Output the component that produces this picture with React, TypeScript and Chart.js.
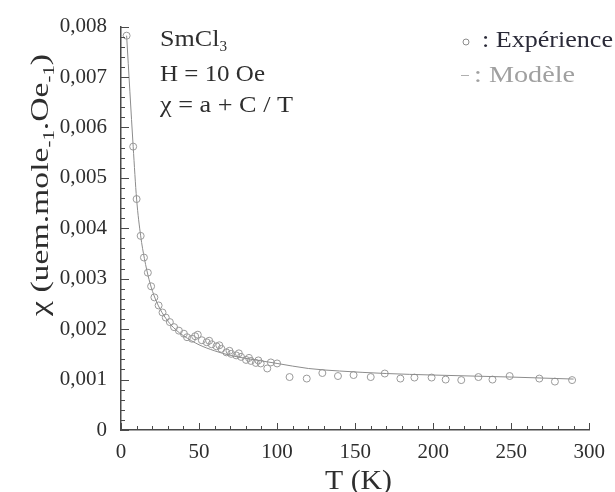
import React, { useEffect, useRef } from "react";
import { Chart, registerables } from "chart.js";

Chart.register(...registerables);

// ---------- data ----------
const expT = [
  3.6, 7.8, 10.0, 12.6, 14.7, 17.2, 19.3, 21.4, 24.1, 26.6, 28.7, 31.3, 34.0, 37.1,
  40.3, 42.3, 45.5, 47.5, 49.2, 51.8, 54.9, 56.5, 58.1, 61.2, 63.0, 64.3, 67.5, 69.5,
  70.6, 73.8, 75.5, 76.9, 80.1, 82.0, 83.2, 86.4, 88.0, 89.5, 93.7, 96.0, 100.0,
  108, 119, 129, 139, 149, 160, 169, 179, 188, 199, 208, 218, 229, 238, 249, 268, 278, 289,
];
const expChi = [
  0.00782, 0.00562, 0.00458, 0.00385, 0.00342, 0.00312, 0.00285, 0.00263, 0.00247, 0.00233,
  0.00223, 0.00214, 0.00204, 0.00197, 0.00191, 0.00184, 0.00181, 0.00186, 0.00189, 0.00178,
  0.00174, 0.00177, 0.0017, 0.00166, 0.00168, 0.00161, 0.00154, 0.00157, 0.00151, 0.00148,
  0.00152, 0.00145, 0.00139, 0.00143, 0.00137, 0.00133, 0.00138, 0.00132, 0.00122, 0.00134,
  0.00132, 0.00105, 0.00102, 0.00113, 0.00107, 0.00109, 0.00105, 0.00112, 0.00102, 0.00104,
  0.00104, 0.001, 0.00099, 0.00105, 0.001, 0.00107, 0.00102, 0.00096, 0.00099,
];
const modelT = [
  3.6, 7.8, 10, 12.6, 15, 18, 21, 25, 30, 35, 40, 50, 60, 70, 80, 90, 100, 120, 140, 170,
  200, 250, 290,
];
const modelChi = [
  0.00782, 0.00562, 0.00458, 0.00385, 0.0034, 0.00298, 0.00268, 0.0024, 0.00216, 0.00199,
  0.00187, 0.00169, 0.00157, 0.00148, 0.00142, 0.00137, 0.00132, 0.00122, 0.00117, 0.00112,
  0.00109, 0.00105, 0.00101,
];
const xTickValues = [0, 50, 100, 150, 200, 250, 300];
const yTickValues = [0, 0.001, 0.002, 0.003, 0.004, 0.005, 0.006, 0.007, 0.008];

const SERIF = '"Liberation Serif", "Times New Roman", serif';
const INK = "#2e2e2e";
const AXIS = "#4a4a4a";
const MARK = "#8c8c8c";

type Part = { t: string; sub?: boolean };

function richWidth(ctx: CanvasRenderingContext2D, parts: Part[], size: number) {
  let w = 0;
  for (const p of parts) {
    ctx.font = `${Math.round(p.sub ? size * 0.6 : size)}px ${SERIF}`;
    w += ctx.measureText(p.t).width;
  }
  return w;
}

function drawRich(
  ctx: CanvasRenderingContext2D,
  parts: Part[],
  x: number,
  y: number,
  size: number,
  color: string,
  targetW?: number
) {
  const w = richWidth(ctx, parts, size);
  ctx.save();
  ctx.translate(x, y);
  if (targetW) ctx.scale(targetW / w, 1);
  ctx.fillStyle = color;
  ctx.textAlign = "left";
  ctx.textBaseline = "alphabetic";
  let cx = 0;
  for (const p of parts) {
    const s = Math.round(p.sub ? size * 0.6 : size);
    ctx.font = `${s}px ${SERIF}`;
    ctx.fillText(p.t, cx, p.sub ? size * 0.22 : 0);
    cx += ctx.measureText(p.t).width;
  }
  ctx.restore();
}

const decorPlugin = {
  id: "decor",
  afterDraw(chart: any) {
    const ctx: CanvasRenderingContext2D = chart.ctx;
    const xs = chart.scales.x;
    const ys = chart.scales.y;
    const area = chart.chartArea;
    ctx.save();
    ctx.strokeStyle = AXIS;
    ctx.lineWidth = 1;
    for (let v = 0; v <= 300; v += 10) {
      const px = Math.round(xs.getPixelForValue(v)) + 0.5;
      const len = v % 50 === 0 ? 7 : 4;
      ctx.beginPath();
      ctx.moveTo(px, area.bottom);
      ctx.lineTo(px, area.bottom - len);
      ctx.stroke();
    }
    for (let i = 0; i <= 40; i++) {
      const py = Math.round(ys.getPixelForValue(i * 0.0002)) + 0.5;
      const len = i % 5 === 0 ? 8 : 4;
      ctx.beginPath();
      ctx.moveTo(area.left, py);
      ctx.lineTo(area.left + len, py);
      ctx.stroke();
    }
    ctx.restore();

    // axis titles
    ctx.save();
    ctx.translate(48, 316);
    ctx.rotate(-Math.PI / 2);
    drawRich(
      ctx,
      [
        { t: "χ (uem.mole" },
        { t: "-1", sub: true },
        { t: ".Oe" },
        { t: "-1", sub: true },
        { t: ")" },
      ],
      0,
      0,
      26,
      INK,
      262
    );
    ctx.restore();
    drawRich(ctx, [{ t: "T (K)" }], 325, 489, 28, INK, 67);

    // annotations
    drawRich(ctx, [{ t: "SmCl" }, { t: "3", sub: true }], 160, 46, 24, INK, 67);
    drawRich(ctx, [{ t: "H = 10 Oe" }], 160, 81, 24, INK, 105);
    drawRich(ctx, [{ t: "χ = a + C / T" }], 160, 112, 24, INK, 133);

    // legend
    ctx.save();
    ctx.strokeStyle = MARK;
    ctx.lineWidth = 1;
    ctx.beginPath();
    ctx.arc(466, 42, 3, 0, Math.PI * 2);
    ctx.stroke();
    ctx.strokeStyle = "#b0b0b0";
    ctx.beginPath();
    ctx.moveTo(461, 75.5);
    ctx.lineTo(469, 75.5);
    ctx.stroke();
    ctx.restore();
    drawRich(ctx, [{ t: ": Expérience" }], 482, 47, 24, "#2a2a38", 131);
    drawRich(ctx, [{ t: ": Modèle" }], 474, 82, 24, "#a0a0a0", 101);
  },
};

export default function App() {
  const ref = useRef<HTMLCanvasElement | null>(null);
  useEffect(() => {
    if (!ref.current) return;
    const chart = new Chart(ref.current, {
      type: "scatter",
      data: {
        datasets: [
          {
            label: "Modèle",
            data: modelT.map((t, i) => ({ x: t, y: modelChi[i] })),
            showLine: true,
            borderColor: MARK,
            borderWidth: 1,
            pointRadius: 0,
            cubicInterpolationMode: "monotone",
          } as any,
          {
            label: "Expérience",
            data: expT.map((t, i) => ({ x: t, y: expChi[i] })),
            showLine: false,
            pointStyle: "circle",
            pointRadius: 3.5,
            pointBorderWidth: 1,
            pointBorderColor: "#9a9a9a",
            pointBackgroundColor: "rgba(255,255,255,0)",
          } as any,
        ],
      },
      options: {
        animation: false,
        responsive: false,
        layout: { padding: { top: 25, right: 17, left: 0, bottom: 0 } },
        plugins: { legend: { display: false }, tooltip: { enabled: false } },
        scales: {
          x: {
            type: "linear",
            min: 0,
            max: 300,
            afterBuildTicks: (s: any) => {
              s.ticks = xTickValues.map((v) => ({ value: v }));
            },
            afterFit: (s: any) => {
              s.height = 62;
            },
            grid: { display: false, drawTicks: false, tickLength: 0 },
            border: { display: true, color: AXIS, width: 1.5 },
            ticks: {
              font: { family: SERIF, size: 21 },
              color: INK,
              padding: 10,
              maxRotation: 0,
              callback: (v: any) => String(v),
            },
          },
          y: {
            type: "linear",
            min: 0,
            max: 0.008,
            afterBuildTicks: (s: any) => {
              s.ticks = yTickValues.map((v) => ({ value: v }));
            },
            afterFit: (s: any) => {
              s.width = 121;
            },
            grid: { display: false, drawTicks: false, tickLength: 0 },
            border: { display: true, color: AXIS, width: 1.5 },
            ticks: {
              font: { family: SERIF, size: 21 },
              color: INK,
              padding: 14,
              callback: (v: any) => {
                const n = Number(v);
                if (Math.abs(n) < 1e-9) return "0";
                return n.toFixed(3).replace(".", ",");
              },
            },
          },
        },
      } as any,
      plugins: [decorPlugin],
    });
    return () => chart.destroy();
  }, []);
  return (
    <div style={{ position: "absolute", left: 0, top: 0, width: 615, height: 492, background: "#fff" }}>
      <canvas ref={ref} width={615} height={492} style={{ display: "block" }} />
    </div>
  );
}
